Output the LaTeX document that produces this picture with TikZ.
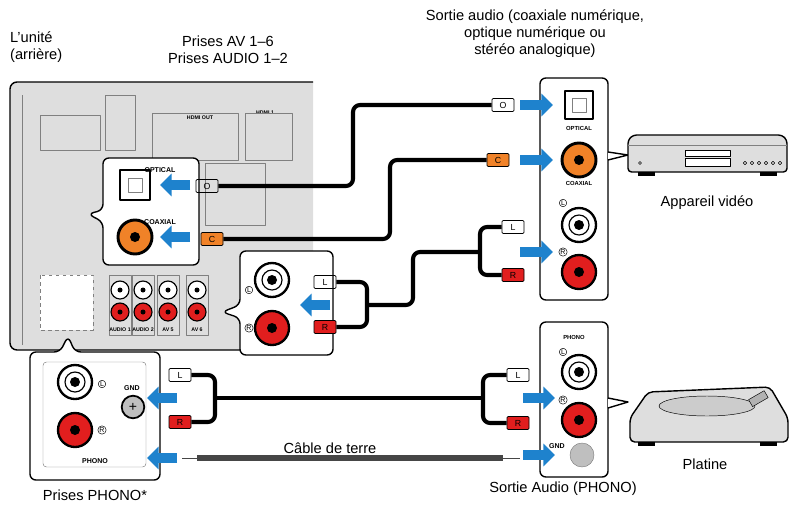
\documentclass[tikz,border=0pt]{standalone}
\usepackage{fontspec}
\setmainfont{Liberation Sans}
\usepackage{xcolor}
\usetikzlibrary{arrows.meta,positioning}
\definecolor{ablue}{RGB}{30,130,205}
\definecolor{panel}{RGB}{222,222,222}
\definecolor{coaxorange}{RGB}{240,130,40}
\definecolor{plugred}{RGB}{225,30,30}
\definecolor{gndgray}{RGB}{70,70,70}

\begin{document}
\begin{tikzpicture}[x=0.03cm, y=-0.03cm, line join=round]
    \tikzstyle{label} = [font=\fontsize{12.5}{14.5}\selectfont, align=center]
    \tikzstyle{tiny} = [font=\fontsize{4.5}{5}\selectfont\bfseries]
    \tikzstyle{box} = [draw=black, line width=1.2pt, fill=white, rounded corners=5pt]
    \tikzstyle{jack} = [circle, draw=black, line width=2pt, fill=white, minimum size=34*0.03cm, inner sep=0pt]
    \tikzstyle{plug} = [rectangle, draw=black, line width=0.6pt, rounded corners=1pt, minimum width=22*0.03cm, minimum height=13*0.03cm, inner sep=0pt, font=\fontsize{7.5}{7.5}\selectfont]
    \tikzstyle{cable} = [line width=3.5pt, black, rounded corners=6pt]
    \tikzstyle{push} = [line width=9pt, ablue, -{Triangle[width=19pt, length=10pt]}]
    \tikzstyle{lr} = [circle, draw, inner sep=0.4pt, font=\fontsize{6}{6}\selectfont]

    \useasboundingbox (0,0) rectangle (792,506);

    % Labels
    \node [label, align=left, anchor=north west] (unit) at (6,28) {L'unité\\(arrière)};
    \node [label] (avjacks) at (228,50) {Prises AV 1--6\\Prises AUDIO 1--2};
    \node [label] (source) at (535,34) {Sortie audio (coaxiale numérique,\\optique numérique ou\\stéréo analogique)};

    % Receiver rear panel
    \draw [draw=black, line width=1.2pt, fill=panel, rounded corners=6pt] (313,82) -- (10,82) -- (10,350) -- (313,350);
    \draw [gray, line width=0.8pt] (22,95) -- (22,345);
    \draw [dashed, gray, fill=white] (40,275) rectangle (93,330);
    \foreach \x/\t in {120/AUDIO 1,143/AUDIO 2,168/AV 5,197/AV 6} {
        \draw [gray, fill=panel] (\x-11,275) rectangle (\x+11,335);
        \node [jack, minimum size=18*0.03cm, line width=1pt] at (\x,290) {};
        \fill (\x,290) circle (2.5);
        \node [jack, minimum size=18*0.03cm, line width=1pt, fill=plugred] at (\x,312) {};
        \fill (\x,312) circle (2.5);
        \node [tiny] at (\x,330) {\t};
    }
    \node [tiny] at (200,118) {HDMI OUT};
    \node [tiny] at (265,113) {HDMI 1};
    \draw [gray] (152,113) rectangle (238,160);
    \draw [gray] (245,113) rectangle (292,160);
    \draw [gray] (205,163) rectangle (265,225);
    \draw [gray] (40,115) rectangle (100,150);
    \draw [gray] (105,95) rectangle (135,150);

    % Optical / coaxial zoom
    \draw [box] (199,158) -- (103,158) -- (103,210) -- (88,214) -- (103,222) -- (103,265) -- (199,265) -- cycle;
    \node [rectangle, draw=black, line width=1.5pt, fill=white, minimum size=30*0.03cm] (optin) at (135,185) {};
    \draw [gray] (128,178) rectangle (142,192);
    \node [font=\fontsize{6}{6}\selectfont\bfseries] at (160,170) {OPTICAL};
    \node [jack, fill=coaxorange, line width=2.5pt] (coaxin) at (135,237) {};
    \fill (coaxin) circle (5);
    \node [font=\fontsize{6}{6}\selectfont\bfseries] at (160,222) {COAXIAL};

    % Analog zoom
    \draw [box] (333,251) -- (240,251) -- (240,305) -- (222,312) -- (240,318) -- (240,355) -- (333,355) -- cycle;
    \node [jack] (lin) at (272,280) {};
    \draw [line width=1pt] (lin) circle (10);
    \fill (lin) circle (5);
    \node [jack, fill=plugred] (rin) at (272,328) {};
    \fill (rin) circle (5);
    \node [lr] at (249,290) {L};
    \node [lr] at (249,328) {R};

    % Phono zoom
    \draw [box] (60,352) -- (30,352) -- (30,480) -- (160,480) -- (160,352) -- (75,352) -- (68,336) -- cycle;
    \draw [gray, rounded corners=3pt] (43,362) rectangle (146,467);
    \node [jack] (plin) at (75,382) {};
    \draw [line width=1pt] (plin) circle (10);
    \fill (plin) circle (5);
    \node [jack, fill=plugred] (prin) at (75,430) {};
    \fill (prin) circle (5);
    \node [lr] at (102,384) {L};
    \node [lr] at (102,430) {R};
    \node [circle, draw=black, line width=1.5pt, fill=gray!50, minimum size=22*0.03cm] (gndin) at (133,407) {\fontsize{12}{12}\selectfont+};
    \node [font=\fontsize{6}{6}\selectfont\bfseries] at (132,388) {GND};
    \node [font=\fontsize{6}{6}\selectfont\bfseries] at (95,461) {PHONO};

    % Source output panel
    \draw [box] (540,78) rectangle (608,300);
    \draw [box, rounded corners=0pt] (608,160) -- (628,155) -- (608,152);
    \node [rectangle, draw=black, line width=1.5pt, fill=white, minimum size=28*0.03cm] (optout) at (579,105) {};
    \draw [gray] (572,98) rectangle (586,112);
    \node [font=\fontsize{5}{5}\selectfont\bfseries] at (579,128) {OPTICAL};
    \node [jack, fill=coaxorange, line width=2.5pt] (coaxout) at (579,160) {};
    \fill (coaxout) circle (5);
    \node [font=\fontsize{5}{5}\selectfont\bfseries] at (579,183) {COAXIAL};
    \node [jack] (lout) at (579,225) {};
    \draw [line width=1pt] (lout) circle (10);
    \fill (lout) circle (5);
    \node [jack, fill=plugred] (rout) at (579,272) {};
    \fill (rout) circle (5);
    \node [lr] at (563,203) {L};
    \node [lr] at (563,252) {R};

    % Video device
    \draw [draw=black, line width=1.2pt, fill=panel, rounded corners=3pt] (628,140) -- (633,135) -- (782,135) -- (787,140) -- (787,172) -- (628,172) -- cycle;
    \draw [gray] (628,145) -- (787,145);
    \draw [fill=white] (685,150) rectangle (730,156);
    \draw [fill=white] (685,158) rectangle (730,166);
    \draw (640,163) circle (1.5);
    \foreach \x in {745,752,759,766,773,780} \draw (\x,163) circle (1.8);
    \fill (638,172) rectangle (655,176);
    \fill (760,172) rectangle (777,176);
    \node [label] (video) at (707,203) {Appareil vidéo};

    % Phono output panel
    \draw [box] (540,322) rectangle (608,477);
    \draw [box, rounded corners=0pt] (608,408) -- (628,402) -- (608,398);
    \node [font=\fontsize{5}{5}\selectfont\bfseries] at (574,337) {PHONO};
    \node [jack] (plout) at (579,372) {};
    \draw [line width=1pt] (plout) circle (10);
    \fill (plout) circle (5);
    \node [jack, fill=plugred] (prout) at (579,420) {};
    \fill (prout) circle (5);
    \node [lr] at (563,352) {L};
    \node [lr] at (563,400) {R};
    \node [circle, draw=gray, fill=gray!50, minimum size=24*0.03cm] (gndout) at (582,455) {};
    \node [font=\fontsize{6}{6}\selectfont\bfseries] at (557,446) {GND};

    % Turntable
    \draw [draw=black, line width=1.2pt, fill=panel, rounded corners=4pt] (630,442) -- (630,418) -- (648,392) -- (770,387) -- (788,418) -- (788,442) -- cycle;
    \draw [fill=gray!40] (707,406) ellipse (48 and 10);
    \draw [fill=gray!60, rotate around={30:(758,400)}] (750,395) rectangle (768,403);
    \fill (638,442) rectangle (655,446);
    \fill (760,442) rectangle (777,446);
    \node [label] (platine) at (705,464) {Platine};

    % Plugs
    \node [plug] (optplugL) at (207,186) {O};
    \node [plug, fill=coaxorange] (coaxplugL) at (212,239) {C};
    \node [plug] (lplugA) at (325,282) {L};
    \node [plug, fill=plugred] (rplugA) at (325,327) {R};
    \node [plug] (optplugR) at (503,105) {O};
    \node [plug, fill=coaxorange] (coaxplugR) at (498,160) {C};
    \node [plug] (lplugB) at (513,227) {L};
    \node [plug, fill=plugred] (rplugB) at (513,275) {R};
    \node [plug] (lplugP) at (180,375) {L};
    \node [plug, fill=plugred] (rplugP) at (180,422) {R};
    \node [plug] (lplugQ) at (518,375) {L};
    \node [plug, fill=plugred] (rplugQ) at (518,423) {R};

    % Cables
    \coordinate (joinA) at (367,305);
    \coordinate (joinB) at (480,252);
    \coordinate (joinP) at (215,398);
    \coordinate (joinQ) at (483,398);
    \draw [cable] (optplugL.east) -- (353,186) -- (353,105) -- (optplugR.west);
    \draw [cable] (coaxplugL.east) -- (390,239) -- (390,160) -- (coaxplugR.west);
    \draw [cable] (lplugA.east) -| (joinA) |- (rplugA.east);
    \draw [cable] (joinA) -- (413,305) -- (413,252) -- (joinB);
    \draw [cable] (lplugB.west) -| (joinB) |- (rplugB.west);
    \draw [cable] (lplugP.east) -| (joinP) |- (rplugP.east);
    \draw [cable] (lplugQ.west) -| (joinQ) |- (rplugQ.west);
    \draw [cable] (joinP) -- (joinQ);
    \coordinate (gndL) at (182,458);
    \coordinate (gndR) at (520,458);
    \draw [gndgray, line width=0.6pt] (gndL) -- (gndR);
    \draw [gndgray, line width=5pt] (197,458) -- (503,458);
    \node [label] (ground) at (330,448) {Câble de terre};

    % Arrows
    \draw [push] (190,185) -- (160,185);
    \draw [push] (190,237) -- (160,237);
    \draw [push] (330,305) -- (300,305);
    \draw [push] (177,398) -- (147,398);
    \draw [push] (177,458) -- (147,458);
    \draw [push] (520,105) -- (553,105);
    \draw [push] (520,160) -- (553,160);
    \draw [push] (520,252) -- (553,252);
    \draw [push] (523,398) -- (555,398);
    \draw [push] (523,455) -- (555,455);

    % Bottom labels
    \node [label] (phonojacks) at (95,495) {Prises PHONO*};
    \node [label] (phonoout) at (563,489) {Sortie Audio (PHONO)};
\end{tikzpicture}
\end{document}
